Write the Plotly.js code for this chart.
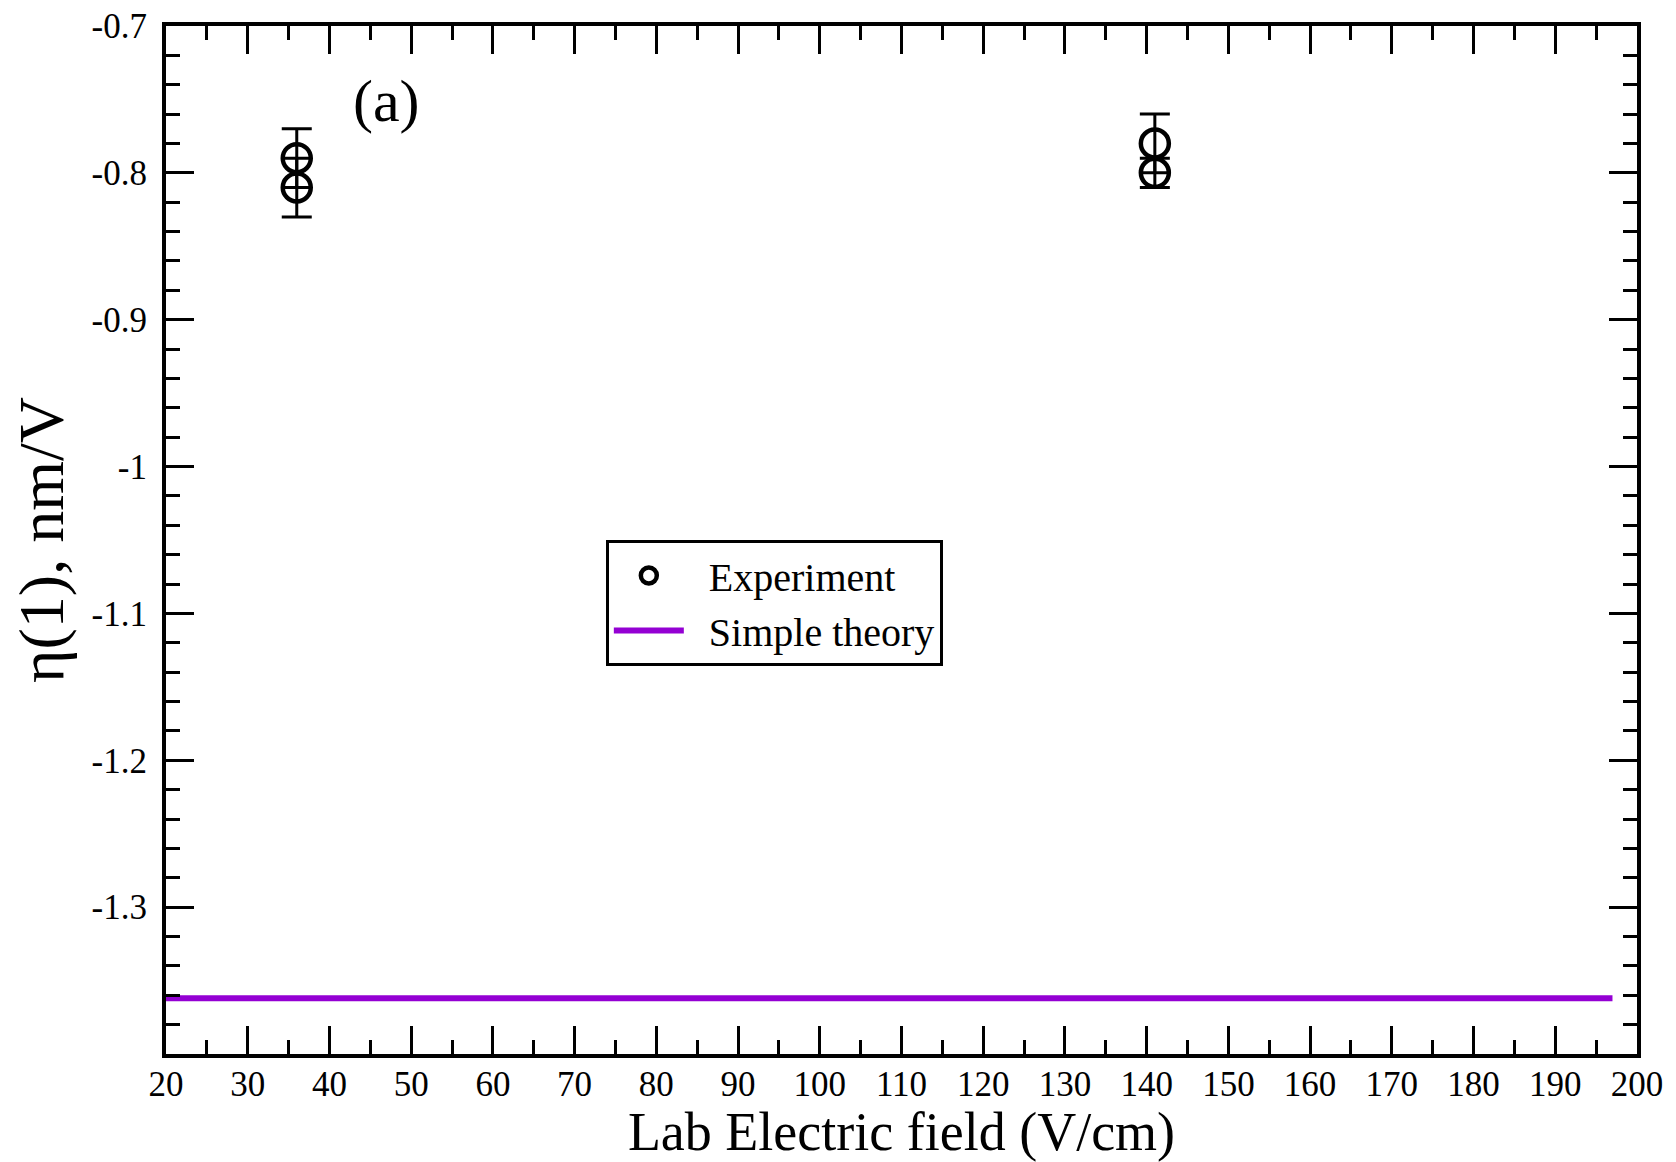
<!DOCTYPE html>
<html>
<head>
<meta charset="utf-8">
<script src="https://cdn.plot.ly/plotly-3.0.1.min.js"></script>
<style>html,body{margin:0;padding:0;background:#fff;}#chart{width:1676px;height:1162px;}</style>
</head>
<body>
<div id="chart"></div>
<script>
// Experimental data: lab electric field (V/cm), eta(1) (nm/V), error
const expField = [36, 36, 141, 141];
const expEta = [-0.79, -0.81, -0.78, -0.80];
const expErr = [0.02, 0.02, 0.02, 0.01];

// Simple theory (constant)
const theoryField = [20, 197];
const theoryEta = [-1.362, -1.362];

const xTitle = 'Lab Electric field (V/cm)';
const yTitle = 'η(1), nm/V';
const panelLabel = '(a)';
const seriesNames = ['Experiment', 'Simple theory'];
const yTickVals = [-1.3, -1.2, -1.1, -1.0, -0.9, -0.8, -0.7];
const yTickText = ['-1.3', '-1.2', '-1.1', '-1', '-0.9', '-0.8', '-0.7'];

const FONT = '"Liberation Serif", "Times New Roman", serif';
const PAD = '\u00a0\u00a0';

const traces = [
  {
    x: expField, y: expEta, type: 'scatter', mode: 'markers', name: PAD + seriesNames[0],
    marker: {symbol: 'circle-open', size: 28, color: 'black', line: {color: 'black', width: 4.5}},
    error_y: {type: 'data', array: expErr, visible: true, color: 'black', thickness: 3, width: 15}
  },
  {
    x: theoryField, y: theoryEta, type: 'scatter', mode: 'lines', name: PAD + seriesNames[1],
    line: {color: '#9400D3', width: 6}
  }
];

const axisCommon = {
  showgrid: false, zeroline: false, showline: true, linecolor: 'black', linewidth: 4,
  mirror: 'allticks', ticks: 'inside', tickcolor: 'black', tickwidth: 3, ticklen: 28,
  tickfont: {family: FONT, size: 35, color: 'black'}
};

const layout = {
  width: 1676, height: 1162,
  margin: {l: 166, r: 39, t: 26, b: 108},
  paper_bgcolor: 'white', plot_bgcolor: 'white',
  font: {family: FONT, color: 'black'},
  showlegend: true,
  legend: {
    x: 0.299, y: 0.5, xanchor: 'left', yanchor: 'top',
    bgcolor: 'white', bordercolor: 'black', borderwidth: 3,
    font: {family: FONT, size: 40, color: 'black'},
    itemwidth: 70, tracegroupgap: 0
  },
  xaxis: Object.assign({}, axisCommon, {
    range: [20, 200], dtick: 10, tick0: 20,
    minor: {dtick: 5, ticks: 'inside', ticklen: 14, tickwidth: 3, tickcolor: 'black'},
    title: {text: xTitle, font: {family: FONT, size: 54, color: 'black'}, standoff: 10},
    ticklabelstandoff: -4
  }),
  yaxis: Object.assign({}, axisCommon, {
    range: [-1.4, -0.7],
    tickvals: yTickVals,
    ticktext: yTickText,
    minor: {dtick: 0.02, ticks: 'inside', ticklen: 14, tickwidth: 3, tickcolor: 'black'},
    title: {text: yTitle, font: {family: FONT, size: 64, color: 'black'}, standoff: 8},
    ticklabelstandoff: 8
  }),
  annotations: [{
    x: 47, y: -0.751, xref: 'x', yref: 'y', text: panelLabel, showarrow: false,
    font: {family: FONT, size: 60, color: 'black'}
  }]
};

Plotly.newPlot('chart', traces, layout, {displayModeBar: false, staticPlot: true});
</script>
</body>
</html>
